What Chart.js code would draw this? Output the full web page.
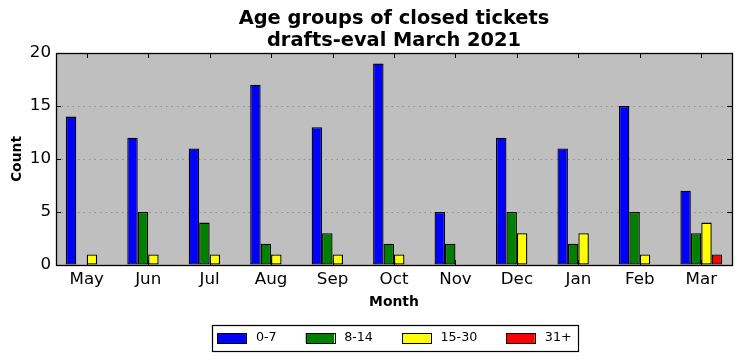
<!DOCTYPE html>
<html>
<head>
<meta charset="utf-8">
<script src="https://cdn.jsdelivr.net/npm/chart.js@4.4.0/dist/chart.umd.min.js"></script>
<style>
html, body { margin: 0; padding: 0; background: #fff; }
#contenedor { width: 742px; height: 361px; }
</style>
</head>
<body>
<div id="contenedor"><canvas id="grafico" width="742" height="361"></canvas></div>
<script>
// Datos del gráfico
const meses = ['May', 'Jun', 'Jul', 'Aug', 'Sep', 'Oct', 'Nov', 'Dec', 'Jan', 'Feb', 'Mar'];
const edad0a7 = [14, 12, 11, 17, 13, 19, 5, 12, 11, 15, 7];
const edad8a14 = [0, 5, 4, 2, 3, 2, 2, 5, 2, 5, 3];
const edad15a30 = [1, 1, 1, 1, 1, 1, 0, 3, 3, 1, 4];
const edad31mas = [0, 0, 0, 0, 0, 0, 0, 0, 0, 0, 1];
const etiquetasSeries = ['0-7', '8-14', '15-30', '31+'];
const coloresSeries = ['#0000ff', '#008000', '#ffff00', '#ff0000'];
const valoresY = [0, 5, 10, 15, 20];
const titulo = ['Age groups of closed tickets', 'drafts-eval March 2021'];

const fuente = 'DejaVu Sans';

// Fondo gris, marco, marcas hacia adentro, título y leyenda (estilo clásico)
const estiloClasico = {
    id: 'estiloClasico',
    beforeDraw(chart) {
        const { ctx, chartArea: a } = chart;
        ctx.save();
        ctx.fillStyle = '#bfbfbf';
        ctx.fillRect(a.left, a.top, a.right - a.left, a.bottom - a.top);
        ctx.restore();
    },
    afterDatasetsDraw(chart) {
        const { ctx, chartArea: a, scales } = chart;
        const centro = (a.left + a.right) / 2;
        ctx.save();
        ctx.strokeStyle = '#000';
        ctx.lineWidth = 1;
        ctx.beginPath();
        valoresY.forEach(v => {
            const y = Math.round(scales.y.getPixelForValue(v)) + 0.5;
            ctx.moveTo(a.left, y); ctx.lineTo(a.left + 5, y);
            ctx.moveTo(a.right, y); ctx.lineTo(a.right - 5, y);
        });
        meses.forEach((m, i) => {
            const x = Math.round(scales.x.getPixelForTick(i)) + 0.5;
            ctx.moveTo(x, a.bottom); ctx.lineTo(x, a.bottom - 5);
            ctx.moveTo(x, a.top); ctx.lineTo(x, a.top + 5);
        });
        ctx.stroke();
        ctx.lineWidth = 1.3;
        ctx.strokeRect(Math.round(a.left) + 0.5, Math.round(a.top) + 0.5,
            Math.round(a.right - a.left), Math.round(a.bottom - a.top));

        // Título centrado sobre el área del gráfico
        ctx.fillStyle = '#000';
        ctx.textAlign = 'center';
        ctx.textBaseline = 'middle';
        ctx.font = 'bold 19.4px "' + fuente + '"';
        ctx.fillText(titulo[0], centro, 19);
        ctx.fillText(titulo[1], centro, 41);

        // Leyenda con marco
        ctx.font = '12.7px "' + fuente + '"';
        const anchoCaja = 28.5, separacion = 10, hueco = 29;
        const anchos = etiquetasSeries.map(t => ctx.measureText(t).width);
        let total = 0;
        anchos.forEach((w, i) => { total += anchoCaja + separacion + w + (i < anchos.length - 1 ? hueco : 0); });
        let x = centro - total / 2 + 0.5;
        const cy = 338;
        ctx.lineWidth = 1.2;
        ctx.strokeRect(Math.round(x - 5) + 0.5, 325.5, Math.round(total + 12), 26);
        ctx.textAlign = 'left';
        etiquetasSeries.forEach((t, i) => {
            ctx.fillStyle = coloresSeries[i];
            ctx.fillRect(x, cy - 5, anchoCaja, 10);
            ctx.lineWidth = 1;
            ctx.strokeStyle = '#000';
            ctx.strokeRect(Math.round(x) + 0.5, Math.round(cy - 5) + 0.5, Math.round(anchoCaja), 10);
            ctx.fillStyle = '#000';
            ctx.fillText(t, x + anchoCaja + separacion, cy);
            x += anchoCaja + separacion + anchos[i] + hueco;
        });
        ctx.restore();
    }
};

function serie(i, datos) {
    return {
        label: etiquetasSeries[i],
        data: datos,
        backgroundColor: coloresSeries[i],
        borderColor: '#000',
        borderWidth: 1.3,
        borderSkipped: false,
        categoryPercentage: 0.68,
        barPercentage: 1.0
    };
}

new Chart(document.getElementById('grafico'), {
    type: 'bar',
    data: {
        labels: meses,
        datasets: [
            serie(0, edad0a7),
            serie(1, edad8a14),
            serie(2, edad15a30),
            serie(3, edad31mas)
        ]
    },
    options: {
        responsive: false,
        animation: false,
        devicePixelRatio: 1,
        layout: { padding: { left: 0, right: 10, top: 53, bottom: 43 } },
        plugins: {
            title: { display: false },
            legend: { display: false },
            tooltip: { enabled: false }
        },
        scales: {
            x: {
                afterFit(scale) { scale.height = 53; },
                grid: { display: false, drawTicks: false },
                border: { display: false },
                ticks: { color: '#000', font: { family: fuente, size: 16.7 }, padding: 5, maxRotation: 0 },
                title: {
                    display: true,
                    text: 'Month',
                    color: '#000',
                    font: { family: fuente, size: 13.9, weight: 'bold' },
                    padding: { top: 2, bottom: 7 }
                }
            },
            y: {
                min: 0,
                max: 20,
                afterBuildTicks(scale) { scale.ticks = valoresY.map(v => ({ value: v })); },
                afterFit(scale) { scale.width = 56; },
                grid: {
                    color: ctx => (ctx.tick && (ctx.tick.value === 0 || ctx.tick.value === 20)) ? 'rgba(0,0,0,0)' : '#8c8c8c',
                    drawTicks: false
                },
                border: { display: false, dash: [1.5, 4] },
                ticks: { color: '#000', font: { family: fuente, size: 16.7 }, padding: 5 },
                title: {
                    display: true,
                    text: 'Count',
                    color: '#000',
                    font: { family: fuente, size: 13.9, weight: 'bold' },
                    padding: { top: 9, bottom: 4 }
                }
            }
        }
    },
    plugins: [estiloClasico]
});
</script>
</body>
</html>
